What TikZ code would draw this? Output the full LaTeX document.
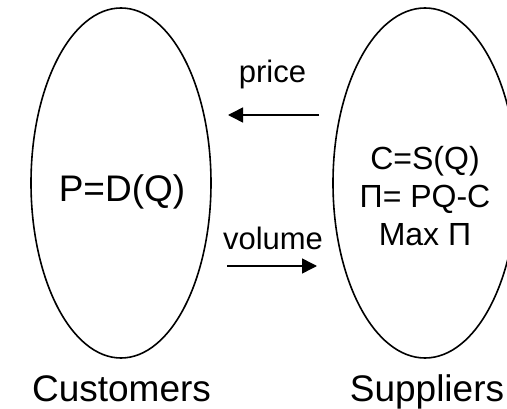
\documentclass[tikz,border=0pt]{standalone}
\usepackage{fontspec}
\setmainfont{Liberation Sans}
\usetikzlibrary{shapes.geometric,arrows.meta}
\begin{document}
\begin{tikzpicture}[x=1pt,y=-1pt,
  market/.style={draw, ellipse, line width=1.6pt, minimum width=180pt, minimum height=350pt, inner sep=0pt},
  flow/.style={line width=1.5pt, -{Triangle[length=15pt,width=15pt]}},
  big/.style={font=\fontsize{37}{40}\selectfont},
  mid/.style={font=\fontsize{31}{36}\selectfont},
  formula/.style={font=\fontsize{32}{38}\selectfont, align=center}]
\useasboundingbox (0,0) rectangle (507,409);
\fill[white] (0,0) rectangle (507,409);

% the two sides of the market
\node[market] (cust) at (121,183) {};
\node[market, minimum width=184pt] (supp) at (425,183) {};

% contents of each side
\node[big, anchor=base] (demand) at (122,202) {P=D(Q)};
\node[formula, anchor=base] (cost) at (425,170) {C=S(Q)};
\node[formula, anchor=base] (profit) at (425,208) {Π= PQ-C};
\node[formula, anchor=base] (maxp) at (425,246) {Max Π};

% captions below
\node[big, anchor=base] (custlbl) at (121.5,402) {Customers};
\node[big, anchor=base] (supplbl) at (427,402) {Suppliers};

% flows between the sides
\coordinate (priceFrom) at (319,115);
\coordinate (priceTo) at (228,115);
\coordinate (volFrom) at (227,266);
\coordinate (volTo) at (317,266);
\node[mid, anchor=base] (pricelbl) at (272.5,83) {price};
\node[mid, anchor=base] (vollbl) at (273,250) {volume};
\draw[flow] (priceFrom) -- (priceTo);
\draw[flow] (volFrom) -- (volTo);
\end{tikzpicture}
\end{document}
